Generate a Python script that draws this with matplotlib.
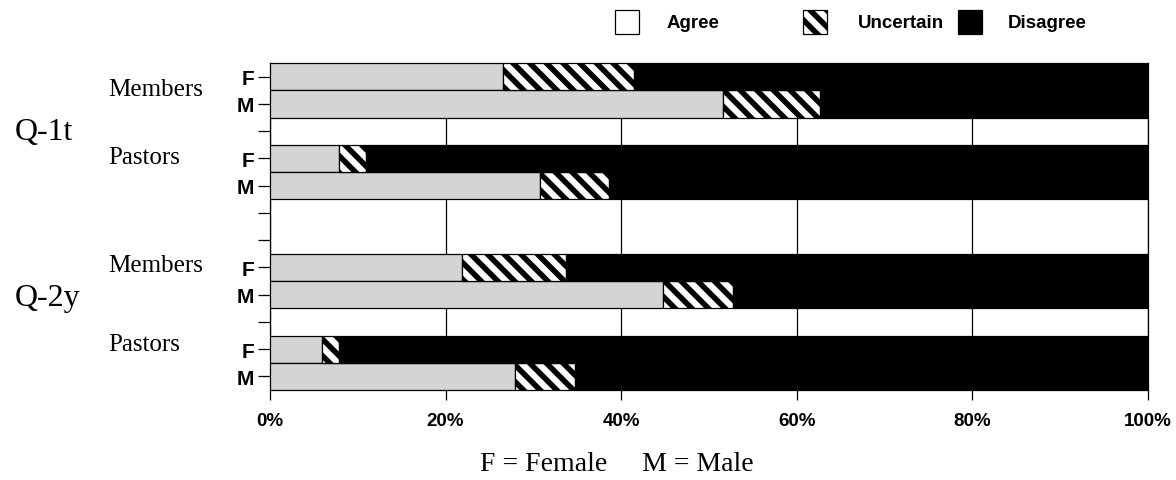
import matplotlib.pyplot as plt
from matplotlib.patches import Rectangle
from matplotlib.transforms import blended_transform_factory

# values in percent, top to bottom
bar_labels = ["F", "M", "F", "M", "F", "M", "F", "M"]
agree = [26.5, 51.6, 7.9, 30.7, 21.9, 44.8, 5.9, 27.9]
uncertain = [15.0, 11.0, 3.0, 7.9, 11.8, 7.9, 2.0, 6.8]
disagree = [58.5, 37.4, 89.1, 61.4, 66.3, 47.3, 92.1, 65.3]
groups = ["Members", "Pastors", "Members", "Pastors"]
questions = ["Q-1t", "Q-2y"]
legend_names = ["Agree", "Uncertain", "Disagree"]
x_ticks = [0, 20, 40, 60, 80, 100]

# slot of each bar (12 slots, the others stay empty)
slots = [0, 1, 3, 4, 7, 8, 10, 11]
n_slots = 12

DPI = 100
W, H = 1176, 481
plt.rcParams['hatch.linewidth'] = 4.0
HATCH = "\\\\"

fig = plt.figure(figsize=(W / DPI, H / DPI), dpi=DPI)
ax = fig.add_axes([270 / W, 1 - 391 / H, (1148 - 270) / W, (391 - 64) / H])

agree_c = "#d4d4d4"
lw = 0.9
ax.barh(slots, agree, height=1.0, color=agree_c, edgecolor="black", linewidth=lw, zorder=3)
ax.barh(slots, uncertain, left=agree, height=1.0, color="white", edgecolor="black",
        hatch=HATCH, linewidth=lw, zorder=3)
left3 = [a + u for a, u in zip(agree, uncertain)]
ax.barh(slots, disagree, left=left3, height=1.0, color="black", edgecolor="black",
        linewidth=lw, zorder=3)

ax.set_xlim(0, 100)
ax.set_ylim(n_slots - 0.5, -0.5)
ax.set_xticks(x_ticks)
ax.set_xticklabels([f"{t}%" for t in x_ticks], fontsize=13.5, fontweight="bold",
                   family="Liberation Sans")
ax.xaxis.grid(True, color="black", linewidth=lw, zorder=0)
ax.set_axisbelow(True)

ylabels = [""] * n_slots
for s, lab in zip(slots, bar_labels):
    ylabels[s] = lab
ax.set_yticks(range(n_slots))
ax.set_yticklabels(ylabels, fontsize=15, fontweight="bold", family="Liberation Sans")
ax.tick_params(axis="y", length=8.5, width=lw, pad=3)
ax.tick_params(axis="x", length=7.5, width=lw, pad=8)
for sp in ax.spines.values():
    sp.set_linewidth(lw)

# group and question labels
serif = "Liberation Serif"
tr = blended_transform_factory(fig.transFigure, ax.transData)
group_y = [0.45, 2.95, 6.9, 9.8]
for g, gy in zip(groups, group_y):
    ax.text(108 / W, gy, g, transform=tr, fontsize=18, family=serif,
            ha="left", va="center")
q_y = [2.0, 8.1]
for q, qy in zip(questions, q_y):
    ax.text(15 / W, qy, q, transform=tr, fontsize=23, family=serif,
            ha="left", va="center")

fig.text(617 / W, 1 - 465 / H, "F = Female     M = Male", fontsize=20, family=serif,
         ha="center", va="center")

# legend along the top
box_x = [615, 803, 958]
text_x = [667, 858, 1008]
box_faces = ["white", "white", "black"]
box_hatch = [None, HATCH, None]
for name, bx, tx, fc, hc in zip(legend_names, box_x, text_x, box_faces, box_hatch):
    fig.patches.append(Rectangle((bx / W, 1 - 35 / H), 24 / W, 24 / H,
                                 transform=fig.transFigure, facecolor=fc,
                                 edgecolor="black", hatch=hc, linewidth=lw))
    fig.text(tx / W, 1 - 23 / H, name, fontsize=13.5, fontweight="bold",
             family="Liberation Sans", ha="left", va="center")

fig.savefig("out.png", dpi=DPI)
